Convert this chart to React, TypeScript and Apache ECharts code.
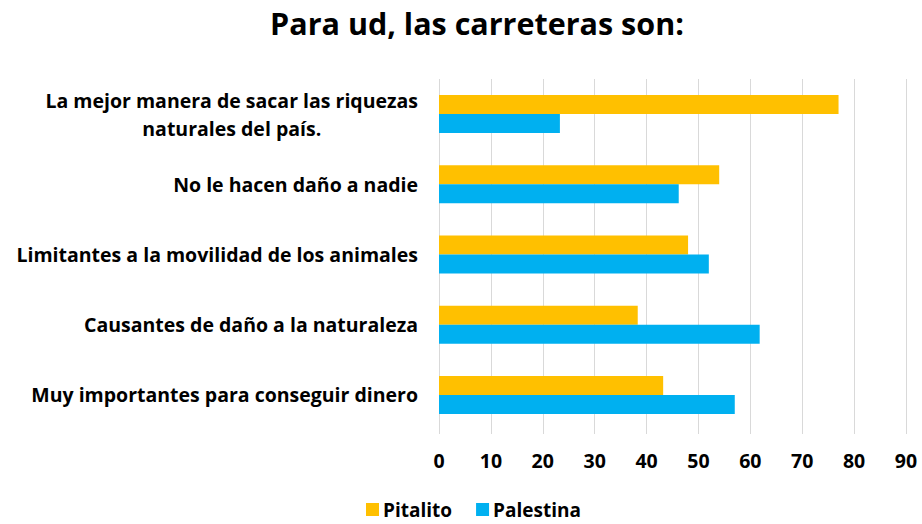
import React, { useEffect, useRef } from "react";
import * as echarts from "echarts";

const categories = [
  "La mejor manera de sacar las riquezas\nnaturales del país.",
  "No le hacen daño a nadie",
  "Limitantes a la movilidad de los animales",
  "Causantes de daño a la naturaleza",
  "Muy importantes para conseguir dinero",
];
const pitalito = [77, 54, 48, 38.3, 43.2];
const palestina = [23.3, 46.2, 52, 61.8, 57];
const seriesNames = ["Pitalito", "Palestina"];
const titleText = "Para ud, las carreteras son:";

const FONT = "'Open Sans', sans-serif";
const LABEL_SIZE = 19.5;

export default function App() {
  const ref = useRef<HTMLDivElement>(null);
  useEffect(() => {
    if (!ref.current) return;
    const chart = echarts.init(ref.current, undefined, { renderer: "svg" });
    chart.setOption({
      animation: false,
      textStyle: { fontFamily: FONT },
      title: {
        text: titleText,
        left: 472,
        top: 2,
        textAlign: "center",
        textStyle: { fontSize: 30.5, fontWeight: "bold", color: "#000", fontFamily: FONT },
      },
      legend: {
        top: 500,
        left: 366,
        padding: 0,
        itemWidth: 13,
        itemHeight: 13,
        itemGap: 24,
        icon: "rect",
        textStyle: { fontSize: 19, lineHeight: 18, fontWeight: "bold", color: "#000", fontFamily: FONT, padding: [0, 0, 0, -1] },
        data: seriesNames,
      },
      grid: { left: 439, right: 16, top: 79, height: 351, containLabel: false },
      xAxis: {
        type: "value",
        min: 0,
        max: 90,
        interval: 10,
        axisLine: { show: false },
        axisTick: { show: true, length: 4, lineStyle: { color: "#d9d9d9" } },
        splitLine: { show: true, lineStyle: { color: "#d9d9d9", width: 1 } },
        axisLabel: { fontSize: 19.5, fontWeight: "bold", color: "#000", margin: 20, fontFamily: FONT },
      },
      yAxis: {
        type: "category",
        inverse: true,
        data: categories,
        axisLine: { show: false },
        axisTick: { show: false },
        axisLabel: {
          margin: 21,
          color: "#000",
          fontSize: LABEL_SIZE,
          fontWeight: "bold",
          fontFamily: FONT,
          lineHeight: 28,
          formatter: (v: string) =>
            v
              .split("\n")
              .map((l) => "{c|" + l + "}")
              .join("\n"),
          rich: {
            c: { align: "center", fontSize: LABEL_SIZE, fontWeight: "bold", color: "#000", fontFamily: FONT, lineHeight: 28 },
          },
        },
      },
      series: [
        {
          name: seriesNames[0],
          type: "bar",
          data: pitalito,
          barWidth: 19,
          barGap: "0%",
          itemStyle: { color: "#FFC000" },
        },
        {
          name: seriesNames[1],
          type: "bar",
          data: palestina,
          barWidth: 19,
          barGap: "0%",
          itemStyle: { color: "#00B0F0" },
        },
      ],
    });
    return () => chart.dispose();
  }, []);
  return <div ref={ref} style={{ width: 922, height: 524, position: "absolute", left: 0, top: 0 }} />;
}
